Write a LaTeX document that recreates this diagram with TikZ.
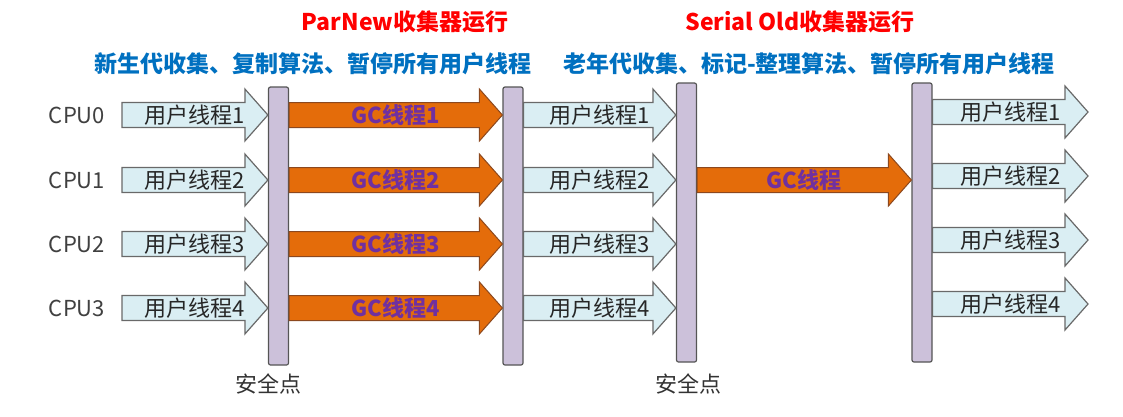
\documentclass[tikz,border=0pt]{standalone}
\usepackage{fontspec}
\setmainfont{Noto Sans CJK SC}
\usetikzlibrary{calc}
\definecolor{userfill}{RGB}{218,238,243}
\definecolor{userline}{RGB}{105,105,105}
\definecolor{gcfill}{RGB}{228,108,10}
\definecolor{gcline}{RGB}{140,72,30}
\definecolor{gctext}{RGB}{112,48,160}
\definecolor{barfill}{RGB}{204,193,218}
\definecolor{barline}{RGB}{85,85,85}
\definecolor{titlered}{RGB}{255,0,0}
\definecolor{titleblue}{RGB}{0,112,192}
\definecolor{cputext}{RGB}{64,64,64}
% block arrow: style, tail, tip, name, text
\newcommand\thread[5]{%
  \draw[#1] let \p1=(#2), \p2=(#3) in
    (\x1,\y1+12.5pt) -- (\x2-23pt,\y1+12.5pt) -- (\x2-23pt,\y1+26pt) -- (\x2,\y1)
    -- (\x2-23pt,\y1-26pt) -- (\x2-23pt,\y1-12.5pt) -- (\x1,\y1-12.5pt) -- cycle;
  \path let \p1=(#2), \p2=(#3) in node[#1 label] (#4) at ({(\x1+\x2)/2},\y1) {#5};
}
\tikzset{
  user/.style={draw=userline,fill=userfill,line width=1.2pt},
  gc/.style={draw=gcline,fill=gcfill,line width=1pt},
  user label/.style={inner sep=0pt,font=\fontsize{22}{22}\selectfont,text=black!85},
  gc label/.style={inner sep=0pt,font=\fontsize{22}{22}\selectfont\bfseries,text=gctext},
  safepoint/.style={draw=barline,fill=barfill,line width=1.2pt,rounded corners=2pt,
    minimum width=20pt,inner sep=0pt},
  title/.style={inner sep=0pt,font=\fontsize{23}{23}\selectfont\bfseries},
  cpu/.style={inner sep=0pt,font=\fontsize{22}{22}\selectfont,text=cputext},
  sptext/.style={inner sep=0pt,font=\fontsize{22}{22}\selectfont,text=black!80}
}
\begin{document}
\begin{tikzpicture}[x=1pt,y=-1pt]
\useasboundingbox (0,0) rectangle (1123,416);
% headings
\node[title,text=titlered] (parnew) at (405,22) {ParNew收集器运行};
\node[title,text=titleblue] (young) at (313,64) {新生代收集、复制算法、暂停所有用户线程};
\node[title,text=titlered] (serial) at (800,22) {Serial Old收集器运行};
\node[title,text=titleblue] (old) at (809,64) {老年代收集、标记-整理算法、暂停所有用户线程};
% safepoints
\node[safepoint,minimum height=278pt] (sp1) at (278.5,226) {};
\node[safepoint,minimum height=278pt] (sp2) at (513,226) {};
\node[safepoint,minimum height=279pt] (sp3) at (686.5,222.5) {};
\node[safepoint,minimum height=279pt] (sp4) at (922,222.5) {};
\node[sptext] (spl1) at (268,384) {安全点};
\node[sptext] (spl3) at (688,384) {安全点};
% threads per cpu
\foreach \i/\yl/\yr in {0/115/112,1/180/176,2/244/240,3/308/304} {
  \pgfmathtruncatemacro\thr{\i+1}
  \node[cpu] (cpu\i) at (77,\yl) {CPU\i};
  \coordinate (tail\i) at (122,\yl);
  \coordinate (head\i) at (1088,\yr);
  \thread{user}{tail\i}{sp1.west |- tail\i}{ua\i}{用户线程\thr}
  \thread{gc}{sp1.east |- tail\i}{sp2.west |- tail\i}{gca\i}{GC线程\thr}
  \thread{user}{sp2.east |- tail\i}{sp3.west |- tail\i}{ub\i}{用户线程\thr}
  \thread{user}{sp4.east |- head\i}{head\i}{uc\i}{用户线程\thr}
}
% serial old
\thread{gc}{sp3.east |- tail1}{sp4.west |- tail1}{gcb}{GC线程}
\end{tikzpicture}
\end{document}
